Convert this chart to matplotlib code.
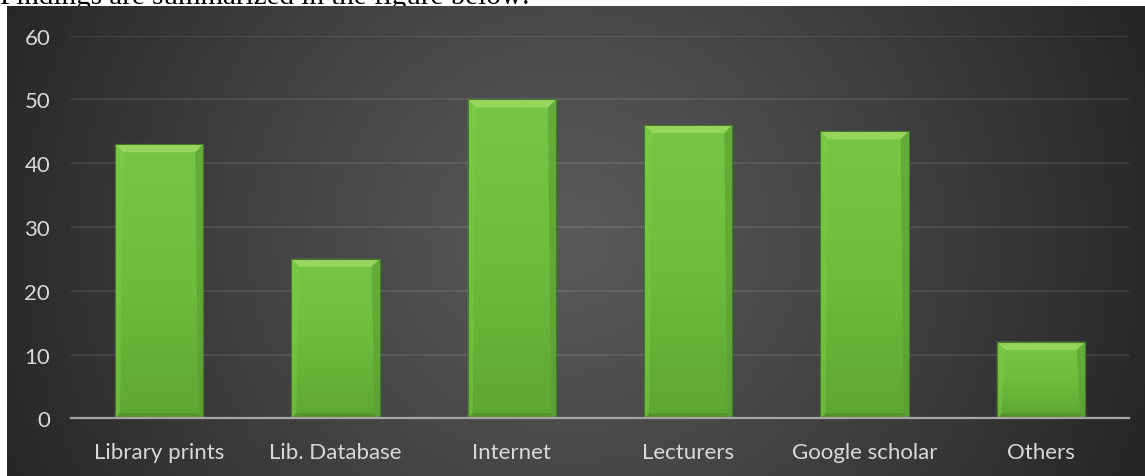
import numpy as np
import matplotlib
matplotlib.use("Agg")
import matplotlib.pyplot as plt
from matplotlib.patches import Polygon
from matplotlib.transforms import IdentityTransform
from matplotlib.colors import LinearSegmentedColormap

plt.rcParams["font.family"] = ["Lato", "DejaVu Sans"]

categories = ["Library prints", "Lib. Database", "Internet", "Lecturers", "Google scholar", "Others"]
values = [43, 25, 50, 46, 45, 12]
yticks = [0, 10, 20, 30, 40, 50, 60]
caption = "Findings are summarized in the figure below:"

W, H, DPI = 1145, 477, 100
fig = plt.figure(figsize=(W / DPI, H / DPI), dpi=DPI, facecolor="white")

# caption above the chart (partly hidden by the chart panel, as in the source)
fig.text(0.0, 1 - 4 / H, caption, family="Liberation Serif", fontsize=21,
         color="black", va="baseline", ha="left", zorder=0)

# background panel with radial gradient
bg = fig.add_axes([7 / W, 0, (W - 7) / W, (H - 7) / H], zorder=1)
bg.set_axis_off()
bw, bh = W - 7, H - 7
yy, xx = np.mgrid[0:bh, 0:bw]
cx, cy = 560, 230
r = np.sqrt(((xx - cx) / 640.0) ** 2 + ((yy - cy) / 620.0) ** 2)
r = np.clip(r, 0, 1) ** 1.1
c0, c1 = 0x5a / 255, 0x24 / 255
img = c0 + (c1 - c0) * r
bg.imshow(np.dstack([img, img, img]), aspect="auto", extent=[0, 1, 0, 1],
          origin="upper", interpolation="bilinear")
bg.set_xlim(0, 1)
bg.set_ylim(0, 1)

# plot axes
left, right = 71 / W, 1129 / W
bottom, top = (H - 419.3) / H, (H - 36.7) / H
ax = fig.add_axes([left, bottom, right - left, top - bottom], zorder=2)
ax.patch.set_alpha(0)
x = np.arange(len(categories))
ax.set_xlim(-0.5, len(categories) - 0.5)
ax.set_ylim(0, 60)
ax.set_yticks(yticks)
ax.set_xticks(x)
ax.set_xticklabels(categories, family="Lato")
ax.set_yticklabels([str(v) for v in yticks], family="Lato")
for s in ["top", "right", "left"]:
    ax.spines[s].set_visible(False)
ax.spines["bottom"].set_color("#a6a6a6")
ax.spines["bottom"].set_linewidth(1.6)
ax.spines["bottom"].set_zorder(6)
ax.tick_params(length=0, colors="#d9d9d9", labelsize=16)
ax.tick_params(axis="y", pad=15)
ax.tick_params(axis="x", pad=17)
ax.yaxis.grid(True, color="white", alpha=0.1, lw=1.3)
ax.set_axisbelow(True)

bars = ax.bar(x, values, width=0.5, color="#6cbd3c", edgecolor="#4a7f28",
              linewidth=0.8, zorder=3)

cmap = LinearSegmentedColormap.from_list("g", ["#5ea633", "#6cbd3c", "#76c745"])
grad = np.linspace(0, 1, 256).reshape(-1, 1)
fig.canvas.draw()
for rect in bars:
    x0, y0 = rect.get_x(), rect.get_y()
    w, h = rect.get_width(), rect.get_height()
    im = ax.imshow(grad, cmap=cmap, extent=[x0, x0 + w, y0, y0 + h], origin="lower",
                   aspect="auto", zorder=3.5, interpolation="bilinear")
    im.set_clip_path(rect)
    # bevels in display pixels
    (px0, py0) = ax.transData.transform((x0, y0))
    (px1, py1) = ax.transData.transform((x0 + w, y0 + h))
    b = 8
    sb = 5
    top_poly = [(px0, py1), (px1, py1), (px1 - b, py1 - b), (px0 + b, py1 - b)]
    bot_poly = [(px0, py0), (px1, py0), (px1 - sb, py0 + sb), (px0 + sb, py0 + sb)]
    lft_poly = [(px0, py0), (px0, py1), (px0 + b, py1 - b), (px0 + sb, py0 + sb)]
    rgt_poly = [(px1, py0), (px1, py1), (px1 - b, py1 - b), (px1 - sb, py0 + sb)]
    for poly, col, a in [(top_poly, "#9ada5e", 0.9), (bot_poly, "#4f8c2b", 0.75),
                         (lft_poly, "#7acb47", 0.5), (rgt_poly, "#5a9c32", 0.6)]:
        p = Polygon(poly, closed=True, transform=IdentityTransform(), facecolor=col,
                    edgecolor="none", alpha=a, zorder=4)
        ax.add_artist(p)
    edge = Polygon([(px0, py0), (px0, py1), (px1, py1), (px1, py0)], closed=True,
                   transform=IdentityTransform(), facecolor="none",
                   edgecolor="#46782a", lw=0.8, zorder=5)
    ax.add_artist(edge)

fig.savefig("out.png", dpi=DPI, facecolor="white")
